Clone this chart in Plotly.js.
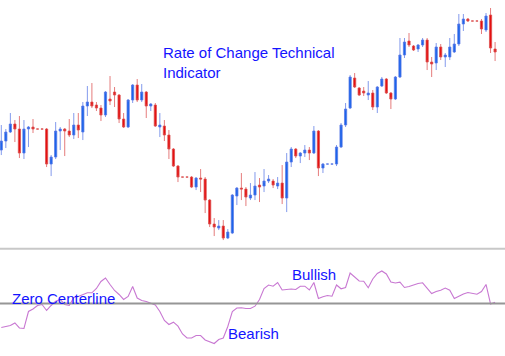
<!DOCTYPE html>
<html>
<head>
<meta charset="utf-8">
<script src="https://cdn.plot.ly/plotly-3.0.1.min.js"></script>
<style>html,body{margin:0;padding:0;background:#fff;}#chart{width:505px;height:356px;}</style>
</head>
<body>
<div id="chart"></div>
<script>
// Bar index (one per trading period)
const bars = Array.from({length: 110}, (_, i) => i + 1);

const openP = [100,109,118,126,121,97,121,123,121,121,121,86,93,119,121,119,115,125,118,144,
  148,145,142,135,151,158,155,131,123,150,165,150,158,144,145,123,124,115,101,84,
  73,73,73,63,72,71,50,26,22,24,12,17,54,62,61,52,55,65,64,69,
  69,64,67,52,88,101,94,97,100,97,119,82,86,86,86,103,125,142,172,162,
  159,155,157,143,164,171,157,151,173,195,209,204,201,205,210,188,187,203,193,193,
  198,206,226,231,229,229,229,220,235,201];
const highP = [125,121,137,130,134,130,124,131,121,121,122,95,128,123,122,131,137,137,148,164,
  167,148,145,159,174,163,156,137,151,166,171,166,159,147,147,137,130,120,102,85,
  73,73,74,73,81,73,51,32,30,30,21,56,63,77,63,67,78,72,81,75,
  71,73,85,97,103,102,98,105,103,124,120,87,86,86,105,127,147,175,177,163,
  163,169,160,164,173,172,158,174,212,212,217,205,206,212,212,193,207,206,197,212,
  216,236,236,232,229,229,231,237,242,208];
const lowP = [95,102,117,108,92,91,103,117,121,121,83,74,91,100,94,113,111,112,110,134,
  142,139,129,133,145,143,127,122,122,147,148,148,132,139,123,113,109,91,83,68,
  73,73,62,60,58,37,23,14,20,10,11,16,45,50,44,50,50,48,58,67,
  62,61,46,38,83,92,87,93,90,96,74,77,86,86,84,102,123,141,162,154,
  154,150,140,137,163,156,141,150,172,192,203,199,198,203,180,173,180,190,183,190,
  197,204,219,228,229,229,216,218,197,189];
const closeP = [109,118,126,121,97,121,123,121,121,121,86,93,119,121,119,115,125,120,144,148,
  144,142,135,158,149,155,131,123,150,165,150,158,144,146,124,125,115,101,84,73,
  73,73,63,72,71,50,26,23,24,12,18,55,62,61,53,55,64,63,69,71,
  65,67,52,88,101,94,97,100,97,119,82,86,86,86,103,125,141,173,163,155,
  157,157,143,163,171,157,151,173,195,208,205,200,205,210,188,186,203,193,195,203,
  206,226,231,229,229,229,221,234,202,198];

// Rate of Change (%) per bar
const roc = [-2.4,-2.3,-2.2,-1.95,-2.45,-2.5,-0.8,-0.55,-0.2,-0.1,
  -0.7,-0.2,0.23,0.4,-0.1,-0.2,0.6,0.7,0.9,1.07,
  1.07,1.5,2.2,2.55,1.9,1.3,0.9,0.4,0.7,1.7,
  0.55,0.3,0.2,0.05,-0.15,-0.8,-1.7,-2.1,-1.87,-2.27,
  -3.05,-3.45,-3.45,-3.2,-3.2,-3.65,-3.8,-4.0,-3.6,-3.45,
  -2.3,-0.8,-0.45,-0.43,-0.5,-0.5,-0.27,0.4,1.5,1.85,
  1.73,2.1,1.35,1.4,1.45,1.4,1.73,1.73,1.35,2.1,
  0.5,0.67,0.8,0.73,1.85,1.47,1.6,3.05,2.6,2.25,
  2.23,1.57,2.45,3.0,3.25,2.95,2.15,2.05,2.13,1.6,
  1.7,1.85,2.0,2.07,1.55,1.0,1.2,1.33,1.55,1.33,
  0.5,0.73,0.95,1.1,1.0,0.93,1.2,1.9,-0.05,0.13];

const labels = {
  title: "Rate of Change Technical<br>Indicator",
  zero: "Zero Centerline",
  bull: "Bullish",
  bear: "Bearish"
};

const W = 505, H = 356;
const px = v => v / W;
const py = v => 1 - v / H;
const txtFont = {family: "Liberation Sans, Arial, sans-serif", size: 15, color: "rgb(20,20,255)"};

const traces = [
  {
    type: "candlestick",
    x: bars, open: openP, high: highP, low: lowP, close: closeP,
    xaxis: "x", yaxis: "y",
    whiskerwidth: 0,
    increasing: {line: {color: "rgba(90,120,230,0.75)", width: 1}, fillcolor: "rgb(25,100,235)"},
    decreasing: {line: {color: "rgba(220,80,80,0.75)", width: 1}, fillcolor: "rgb(228,16,16)"},
    hoverinfo: "skip", showlegend: false
  },
  {
    type: "scatter", mode: "lines",
    x: bars, y: roc,
    xaxis: "x", yaxis: "y2",
    line: {color: "rgb(200,120,210)", width: 1.1},
    hoverinfo: "skip", showlegend: false
  }
];

const hidden = {visible: false, showgrid: false, zeroline: false, fixedrange: true};

const layout = {
  width: W, height: H,
  margin: {l: 0, r: 0, t: 0, b: 0},
  paper_bgcolor: "#ffffff", plot_bgcolor: "#ffffff",
  showlegend: false,
  xaxis: Object.assign({}, hidden, {range: [0.713, 112.19], domain: [0, 1], rangeslider: {visible: false}, anchor: "y"}),
  yaxis: Object.assign({}, hidden, {range: [3, 250], domain: [0.306, 1]}),
  yaxis2: Object.assign({}, hidden, {range: [-5.25, 5.35], domain: [0, 0.2978]}),
  shapes: [
    {type: "line", xref: "paper", yref: "paper", x0: 0, x1: 1, y0: py(248.8), y1: py(248.8),
     line: {color: "rgb(200,200,200)", width: 2}},
    {type: "line", xref: "paper", yref: "y2", x0: 0, x1: 1, y0: 0, y1: 0,
     line: {color: "rgb(150,150,150)", width: 2}}
  ],
  annotations: [
    {text: labels.title, xref: "paper", yref: "paper", x: px(161), y: py(62.5),
     xanchor: "left", yanchor: "middle", align: "left", showarrow: false, font: txtFont},
    {text: labels.zero, xref: "paper", yref: "paper", x: px(10), y: py(298),
     xanchor: "left", yanchor: "middle", showarrow: false, font: txtFont},
    {text: labels.bull, xref: "paper", yref: "paper", x: px(290), y: py(274),
     xanchor: "left", yanchor: "middle", showarrow: false, font: txtFont},
    {text: labels.bear, xref: "paper", yref: "paper", x: px(226), y: py(333.5),
     xanchor: "left", yanchor: "middle", showarrow: false, font: txtFont}
  ]
};

Plotly.newPlot("chart", traces, layout, {staticPlot: true, displayModeBar: false});
</script>
</body>
</html>
